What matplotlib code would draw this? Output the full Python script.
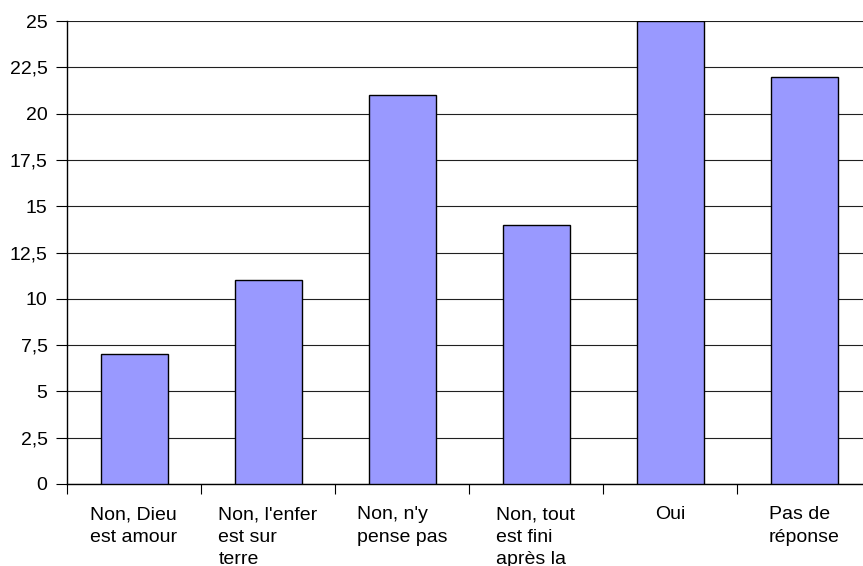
import matplotlib.pyplot as plt
from matplotlib.ticker import FuncFormatter, FixedLocator

categories = ["Non, Dieu\nest amour", "Non, l'enfer\nest sur\nterre", "Non, n'y\npense pas",
              "Non, tout\nest fini\naprès la\nmort", "Oui", "Pas de\nréponse"]
values = [7, 11, 21, 14, 25, 22]
yticks = [0, 2.5, 5, 7.5, 10, 12.5, 15, 17.5, 20, 22.5, 25]

plt.rcParams['font.family'] = ['Liberation Sans', 'DejaVu Sans']

W, H = 863, 566
fig = plt.figure(figsize=(W / 100, H / 100), dpi=100)
# zone de tracé : x de 67 à 871 px (coupée à droite), y de 21 à 484 px
ax = fig.add_axes([67 / W, (H - 484) / H, 804 / W, 463 / H])

x = list(range(len(categories)))
ax.bar(x, values, width=0.5, color='#9999ff', edgecolor='black', linewidth=1, zorder=3)

ax.set_xlim(-0.5, len(categories) - 0.5)
ax.set_ylim(0, 25)

ax.set_yticks(yticks)
ax.yaxis.set_major_formatter(FuncFormatter(lambda v, p: ('%g' % v).replace('.', ',')))
ax.yaxis.grid(True, color='#202020', linewidth=0.8, zorder=0)
ax.tick_params(axis='y', length=8, width=0.8, pad=6, labelsize=14, color='black')

# graduations aux limites des catégories, étiquettes au centre
ax.xaxis.set_major_locator(FixedLocator([i - 0.5 for i in range(len(categories) + 1)]))
ax.xaxis.set_major_formatter(FuncFormatter(lambda v, p: ''))
ax.set_xticks(x, minor=True)
ax.set_xticklabels(categories, minor=True, multialignment='left')
ax.tick_params(axis='x', which='major', length=7, width=0.8, color='black')
ax.tick_params(axis='x', which='minor', length=0, pad=16, labelsize=14)
for lbl in ax.get_xticklabels(minor=True):
    lbl.set_verticalalignment('top')
    lbl.set_linespacing(1.42)

for s in ['top', 'right']:
    ax.spines[s].set_visible(False)
ax.spines['left'].set_linewidth(1)
ax.spines['bottom'].set_linewidth(1)

fig.savefig('out.png', dpi=100)
